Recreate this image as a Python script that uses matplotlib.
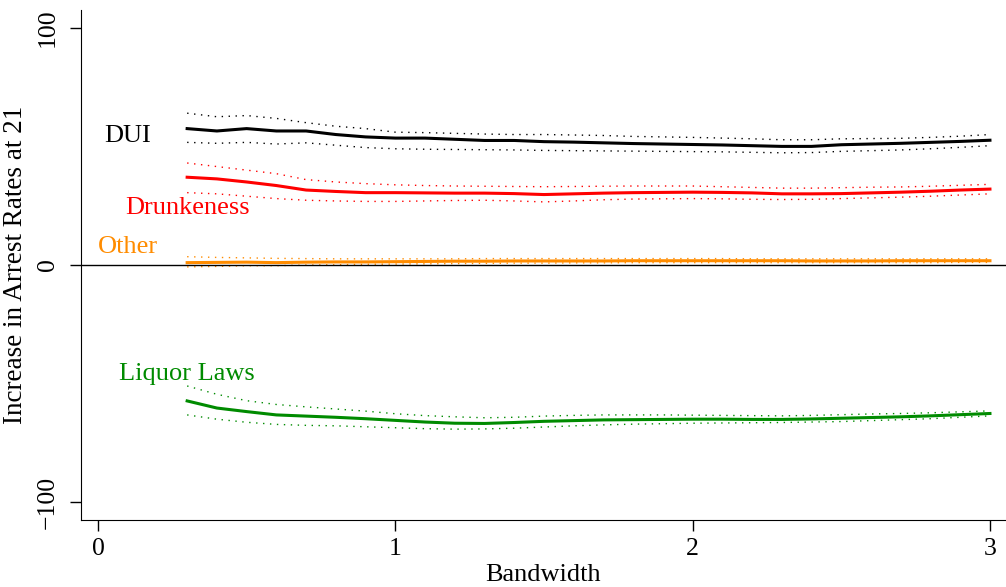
import numpy as np
import matplotlib
matplotlib.use('Agg')
import matplotlib.pyplot as plt

plt.rcParams['font.family'] = ['Liberation Serif', 'DejaVu Serif']

bw = [0.3, 0.4, 0.5, 0.6, 0.7, 0.8, 0.9, 1.0, 1.1, 1.2, 1.3, 1.4, 1.5, 1.6,
      1.7, 1.8, 1.9, 2.0, 2.1, 2.2, 2.3, 2.4, 2.5, 2.6, 2.7, 2.8, 2.9, 3.0]

dui = [57.5, 56.5, 57.5, 56.5, 56.5, 55, 54, 53.5, 53.5, 53, 52.5, 52.5, 52, 51.8,
       51.5, 51.2, 51, 50.8, 50.6, 50.3, 50, 50, 50.7, 51, 51.3, 51.7, 52.1, 52.6]
dui_hi = [64, 62.5, 63, 61.8, 60, 58.5, 57.5, 56, 55.8, 55.5, 55.2, 55, 55, 54.8,
          54.6, 54.2, 54, 53.8, 53.5, 53.2, 52.8, 52.8, 53.2, 53.3, 53.4, 53.8, 54.3, 55]
dui_lo = [51.7, 51.3, 51.7, 51, 51.5, 50.5, 49.5, 49, 48.8, 48.7, 48.6, 48.5, 48.3, 48.2,
          48.1, 48, 47.9, 47.8, 47.7, 47.5, 47.3, 47.4, 47.9, 48.2, 48.5, 49, 49.6, 50.3]

drunk = [37, 36.3, 35, 33.5, 31.6, 31, 30.5, 30.5, 30.4, 30.3, 30.3, 30.1, 29.7, 30,
         30.3, 30.5, 30.6, 30.7, 30.6, 30.4, 30, 30, 30.1, 30.4, 30.7, 31.1, 31.6, 32]
drunk_hi = [43, 41.5, 40, 38.5, 36, 35, 34.3, 33.8, 33.5, 33.3, 33.2, 33.1, 33, 33.1,
            33.2, 33.3, 33.3, 33.3, 33, 32.7, 32.4, 32.4, 32.6, 32.8, 32.9, 33.2, 33.6, 34]
drunk_lo = [30.5, 30, 29, 28, 27.3, 27, 26.8, 26.8, 27, 27.2, 27.3, 27, 26.6, 27,
            27.5, 27.8, 27.9, 28, 27.9, 27.7, 27.6, 27.7, 28, 28.3, 28.6, 29, 29.5, 30]

other = [1.0, 1.1, 1.2, 1.0, 1.2, 1.3, 1.3, 1.4, 1.5, 1.6, 1.6, 1.7, 1.7, 1.7,
         1.7, 1.8, 1.8, 1.8, 1.8, 1.8, 1.8, 1.7, 1.7, 1.7, 1.8, 1.8, 1.8, 1.8]
other_hi = [3.5, 3.2, 3.0, 2.8, 2.7, 2.6, 2.6, 2.6, 2.6, 2.6, 2.7, 2.7, 2.7, 2.7,
            2.7, 2.7, 2.7, 2.7, 2.7, 2.6, 2.6, 2.6, 2.6, 2.6, 2.6, 2.6, 2.6, 2.6]
other_lo = [-0.8, -0.6, -0.3, -0.3, 0, 0.1, 0.3, 0.4, 0.5, 0.6, 0.7, 0.8, 0.8, 0.9,
            0.9, 1.0, 1.0, 1.0, 1.0, 1.0, 1.0, 1.0, 1.0, 1.0, 1.0, 1.0, 1.1, 1.1]

liquor = [-57.3, -60.3, -61.8, -63.2, -63.7, -64.2, -64.8, -65.5, -66.2, -66.7, -66.8, -66.4, -65.9, -65.6,
          -65.3, -65.2, -65.1, -65, -65, -65.1, -65.1, -64.9, -64.6, -64.3, -64, -63.6, -63.1, -62.6]
liquor_hi = [-51, -54.5, -57.2, -58.8, -59.8, -60.7, -61.6, -62.7, -63.5, -64, -64.4, -64.2, -63.7, -63.4,
             -63.2, -63.2, -63.2, -63.3, -63.4, -63.5, -63.6, -63.4, -63.1, -62.8, -62.6, -62.3, -61.9, -61.5]
liquor_lo = [-63.2, -65, -66.3, -67.2, -67.6, -67.8, -68.2, -68.6, -69, -69.2, -69.1, -68.8, -68.3, -67.8,
             -67.4, -67.1, -66.9, -66.7, -66.6, -66.5, -66.4, -66.2, -66, -65.6, -65.2, -64.8, -64.2, -63.6]

series = [
    ('DUI', dui, dui_lo, dui_hi, 'black', 0.10, 54.5),
    ('Drunkeness', drunk, drunk_lo, drunk_hi, '#ff0000', 0.30, 23.9),
    ('Other', other, other_lo, other_hi, '#ff8c00', 0.10, 7.5),
    ('Liquor Laws', liquor, liquor_lo, liquor_hi, '#008b00', 0.30, -46),
]

fig = plt.figure(figsize=(10.06, 5.87), dpi=100)
ax = fig.add_axes([81/1006, 67/587, 925/1006, 510/587])

for name, m, lo, hi, col, lx, ly in series:
    ax.plot(bw, m, color=col, lw=2.2)
    ax.plot(bw, lo, color=col, lw=1, ls=(0, (1, 4)))
    ax.plot(bw, hi, color=col, lw=1, ls=(0, (1, 4)))
    ax.text(lx, ly, name, color=col, fontsize=19, ha='center', va='center')

ax.axhline(0, color='black', lw=1)

ax.set_xlim(-0.057, 3.054)
ax.set_ylim(-107.5, 107.5)
ax.set_xticks([0, 1, 2, 3])
ax.set_yticks([-100, 0, 100])
ax.set_yticklabels(['\u2212100', '0', '100'], rotation=90, va='center')
ax.tick_params(direction='out', length=8, width=1, labelsize=18.5)
ax.tick_params(axis='y', pad=8)
ax.tick_params(axis='x', pad=5)
ax.spines['top'].set_visible(False)
ax.spines['right'].set_visible(False)
ax.set_xlabel('Bandwidth', fontsize=19, labelpad=3)
ax.set_ylabel('Increase in Arrest Rates at 21', fontsize=19.5, labelpad=6)

fig.savefig('out.png', dpi=100)
